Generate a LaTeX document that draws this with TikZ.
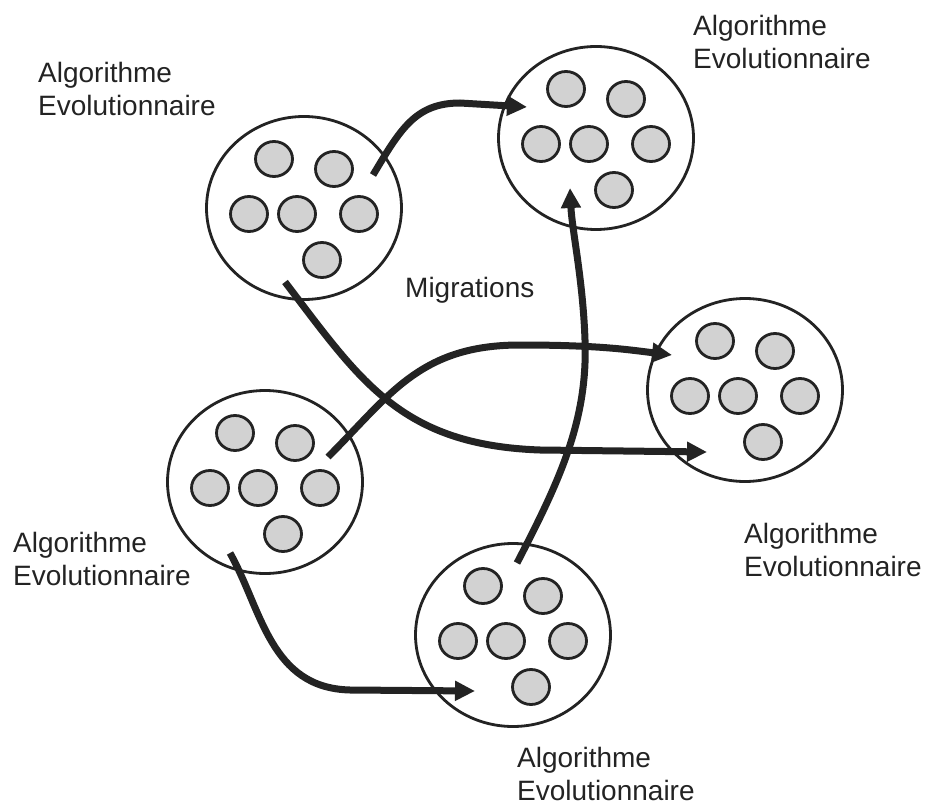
\documentclass[tikz,border=0pt]{standalone}
\usepackage{fontspec}
\setmainfont{Liberation Sans}
\usetikzlibrary{arrows.meta,shapes.geometric,calc}
\definecolor{ink}{RGB}{35,35,35}
\definecolor{cellfill}{RGB}{210,210,210}
\tikzset{
  island/.style={draw=ink, line width=2.8pt, ellipse, fill=white, inner sep=0pt,
    minimum width=195pt, minimum height=183pt},
  cell/.style={draw=ink, line width=2.8pt, ellipse, fill=cellfill, inner sep=0pt,
    minimum width=37pt, minimum height=35pt},
  migr/.style={draw=ink, line width=7pt,
    -{Triangle[length=20pt,width=19pt]}},
  caption/.style={font=\fontsize{28}{33}\selectfont, text=ink, align=left,
    inner sep=0pt, anchor=base west}
}
\begin{document}
\begin{tikzpicture}[x=1pt,y=-1pt]
\useasboundingbox (0,0) rectangle (926,810);

% the five islands, each holding a population of six individuals
\foreach \k/\cx/\cy in {1/304/208, 2/596/138, 3/745/390, 4/265/482, 5/513/635}{
  \node[island] (isl\k) at (\cx,\cy) {};
  \foreach \j/\dx/\dy in {1/-30/-49, 2/30/-39, 3/-55/6, 4/-7/6, 5/55/6, 6/18/52}{
    \node[cell] (ind\k-\j) at ($(isl\k.center)+(\dx,\dy)$) {};
  }
}

% end points of the migration paths
\coordinate (m1s) at (373,175);
\coordinate (m1e) at (527,107);
\coordinate (m2s) at (285,282);
\coordinate (m2e) at (707,452);
\coordinate (m3s) at (328,457);
\coordinate (m3e) at (672,355);
\coordinate (m4s) at (517,563);
\coordinate (m4e) at (570,188);
\coordinate (m5s) at (230,553);
\coordinate (m5e) at (475,691);

% migrations between islands
\draw[migr] (m1s) .. controls (400,130) and (415,103) .. (460,103) -- (m1e);
\draw[migr] (m2s) .. controls (360,380) and (400,445) .. (540,450) -- (m2e);
\draw[migr] (m3s) .. controls (390,395) and (420,345) .. (520,345)
  .. controls (600,345) and (630,350) .. (m3e);
\draw[migr] (m4s) .. controls (560,480) and (588,420) .. (585,340)
  .. controls (583,280) and (572,230) .. (m4e);
\draw[migr] (m5s) .. controls (262,610) and (270,688) .. (350,690) -- (m5e);

% labels (anchored at the baseline of their second line)
\node[caption] (lab1) at (38,116) {Algorithme\\Evolutionnaire};
\node[caption] (lab2) at (693,69) {Algorithme\\Evolutionnaire};
\node[caption] (lab3) at (744,576) {Algorithme\\Evolutionnaire};
\node[caption] (lab4) at (13,585) {Algorithme\\Evolutionnaire};
\node[caption] (lab5) at (517,800) {Algorithme\\Evolutionnaire};
\node[caption] (migtxt) at (405,298) {Migrations};
\end{tikzpicture}
\end{document}
